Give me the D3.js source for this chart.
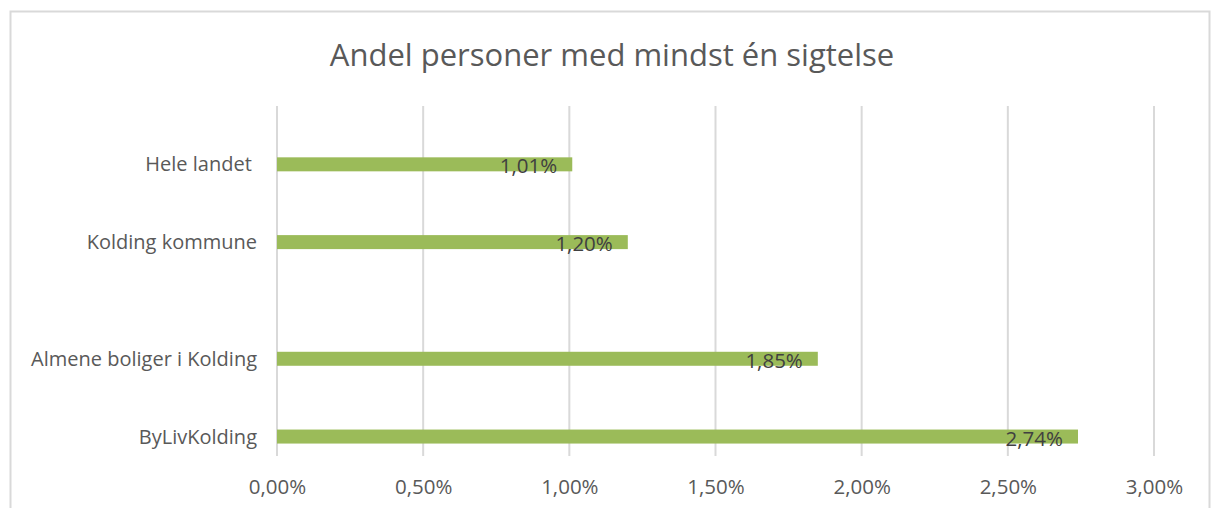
<!DOCTYPE html>
<html>
<head>
<meta charset="utf-8">
<script src="https://cdn.jsdelivr.net/npm/d3@7"></script>
<style>
  body { margin: 0; background: #fff; overflow: hidden; }
  svg { display: block; font-family: "Open Sans", sans-serif; }
</style>
</head>
<body>
<svg></svg>
<script>
// chart data
const categories = ["Hele landet ", "Kolding kommune", "Almene boliger i Kolding", "ByLivKolding"];
const groups = [0, 0, 1, 1];            // two blocks, with a gap between them
const values = [1.01, 1.20, 1.85, 2.74]; // percent
const xTicks = [0, 0.5, 1, 1.5, 2, 2.5, 3];
const title = "Andel personer med mindst én sigtelse";

const width = 1213;
const height = 508;
const margin = { top: 106, right: 59, bottom: 52, left: 277 };

const fmt = v => d3.format(".2f")(v).replace(".", ",") + "%";

const svg = d3.select("svg")
  .attr("width", width)
  .attr("height", height);

// chart border
svg.append("rect")
  .attr("x", 10.5).attr("y", 11.5)
  .attr("width", 1199).attr("height", 510)
  .attr("fill", "#fff")
  .attr("stroke", "#d9d9d9")
  .attr("stroke-width", 2);

svg.append("text")
  .attr("x", 612).attr("y", 66)
  .attr("text-anchor", "middle")
  .attr("fill", "#595959")
  .style("font-size", "31px")
  .text(title);

const innerWidth = width - margin.left - margin.right;
const innerHeight = height - margin.top - margin.bottom;

const xScale = d3.scaleLinear()
  .domain([0, 3])
  .range([0, innerWidth]);

// slot index: category index plus half a slot per group gap
const slot = i => i + groups[i] * 0.5;
const yScale = d3.scaleLinear()
  .domain([-0.75, 3.75])
  .range([0, innerHeight]);

const g = svg.append("g")
  .attr("transform", `translate(${margin.left},${margin.top})`);

// vertical gridlines
g.selectAll(".grid")
  .data(xTicks)
  .enter()
  .append("line")
  .attr("x1", d => xScale(d)).attr("x2", d => xScale(d))
  .attr("y1", 0).attr("y2", innerHeight)
  .attr("stroke", "#d9d9d9")
  .attr("stroke-width", 2);

const barH = 14;

g.selectAll(".bar")
  .data(values)
  .enter()
  .append("rect")
  .attr("x", xScale(0))
  .attr("y", (d, i) => yScale(slot(i)) - barH / 2)
  .attr("width", d => xScale(d) - xScale(0))
  .attr("height", barH)
  .attr("fill", "#9bbb59");

// data labels
g.selectAll(".lbl")
  .data(values)
  .enter()
  .append("text")
  .attr("x", d => xScale(d) - 15)
  .attr("y", (d, i) => yScale(slot(i)) + 9)
  .attr("text-anchor", "end")
  .attr("fill", "#404040")
  .style("font-size", "20.5px")
  .text(d => fmt(d));

// category labels
g.selectAll(".cat")
  .data(categories)
  .enter()
  .append("text")
  .attr("x", -20)
  .attr("y", (d, i) => yScale(slot(i)) + 7)
  .attr("text-anchor", "end")
  .attr("fill", "#595959")
  .style("font-size", "20px")
  .style("white-space", "pre")
  .text(d => d);

// x axis
const xAxis = d3.axisBottom(xScale)
  .tickValues(xTicks)
  .tickSize(0)
  .tickPadding(23)
  .tickFormat(fmt);

const ax = g.append("g")
  .attr("transform", `translate(0,${innerHeight})`)
  .call(xAxis);
ax.select(".domain").remove();
ax.selectAll("text")
  .attr("fill", "#595959")
  .style("font-size", "20.5px")
  .style("font-family", "Open Sans, sans-serif");
</script>
</body>
</html>
